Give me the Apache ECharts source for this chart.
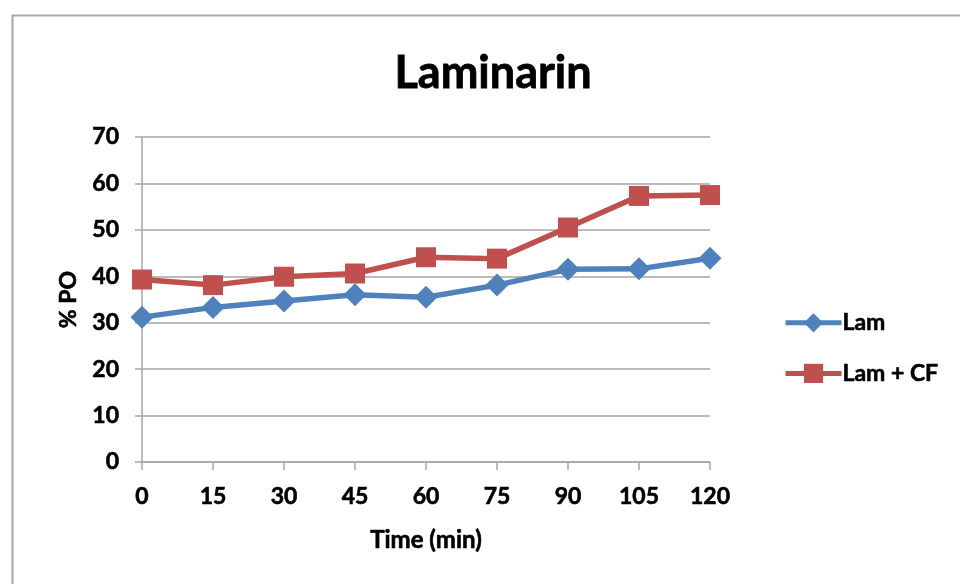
<!DOCTYPE html>
<html>
<head>
<meta charset="utf-8">
<script src="https://cdn.jsdelivr.net/npm/echarts@6/dist/echarts.min.js"></script>
<style>html,body{margin:0;padding:0;background:#fff}#c{width:960px;height:584px}</style>
</head>
<body>
<div id="c"></div>
<script>
const categories = ['0','15','30','45','60','75','90','105','120'];
const lam = [31.2, 33.3, 34.7, 36.0, 35.5, 38.1, 41.5, 41.6, 43.9];
const lamCF = [39.3, 38.1, 39.9, 40.6, 44.1, 43.8, 50.5, 57.3, 57.5];
const yTicks = [0, 10, 20, 30, 40, 50, 60, 70];

const FONT = 'Lato, "Open Sans", sans-serif';
const txt = (size) => ({ fontFamily: FONT, fontWeight: 'bold', fontSize: size, color: '#000',
  textBorderColor: '#000', textBorderWidth: 0.6 });
const chart = echarts.init(document.getElementById('c'));
chart.setOption({
  animation: false,
  backgroundColor: '#fff',
  graphic: [{
    type: 'rect', left: 10, top: 13, z: -1,
    shape: { width: 1000, height: 700 },
    style: { fill: 'none', stroke: '#a6a6a6', lineWidth: 2 }
  }],
  title: {
    text: 'Laminarin', left: 488, top: 46, textAlign: 'center',
    textStyle: Object.assign(txt(45), { textBorderWidth: 0.8 })
  },
  legend: {
    orient: 'vertical', left: 778, top: 306, itemGap: 27,
    itemWidth: 56, itemHeight: 24,
    lineStyle: { width: 5 },
    textStyle: Object.assign(txt(23), { padding: [0,0,0,-4] }),
    data: ['Lam', 'Lam + CF']
  },
  grid: { left: 142, right: 250, top: 137, bottom: 122, containLabel: false },
  xAxis: {
    type: 'category', data: categories, boundaryGap: false,
    name: 'Time (min)', nameLocation: 'middle', nameGap: 66,
    nameTextStyle: txt(24),
    axisLine: { lineStyle: { color: '#a6a6a6', width: 1.5 } },
    axisTick: { show: true, length: 8, alignWithLabel: true, lineStyle: { color: '#a6a6a6', width: 1.5 } },
    axisLabel: Object.assign(txt(23), { margin: 23 }),
    splitLine: { show: false }
  },
  yAxis: {
    type: 'value', min: 0, max: 70, interval: 10,
    name: '% PO', nameLocation: 'middle', nameGap: 62, nameRotate: 90,
    nameTextStyle: txt(23),
    axisLine: { show: true, lineStyle: { color: '#a6a6a6', width: 1.5 } },
    axisTick: { show: true, length: 7, lineStyle: { color: '#a6a6a6', width: 1.5 } },
    axisLabel: Object.assign(txt(23), { margin: 23,
      formatter: v => yTicks.includes(v) ? String(v) : '' }),
    splitLine: { show: true, lineStyle: { color: '#a6a6a6', width: 1.5 } }
  },
  series: [
    {
      name: 'Lam', type: 'line', data: lam,
      symbol: 'diamond', symbolSize: 23,
      lineStyle: { color: '#4F81BD', width: 5.5 },
      itemStyle: { color: '#4F81BD' }
    },
    {
      name: 'Lam + CF', type: 'line', data: lamCF,
      symbol: 'rect', symbolSize: 20,
      lineStyle: { color: '#C0504D', width: 5.5 },
      itemStyle: { color: '#C0504D' }
    }
  ]
});
</script>
</body>
</html>
